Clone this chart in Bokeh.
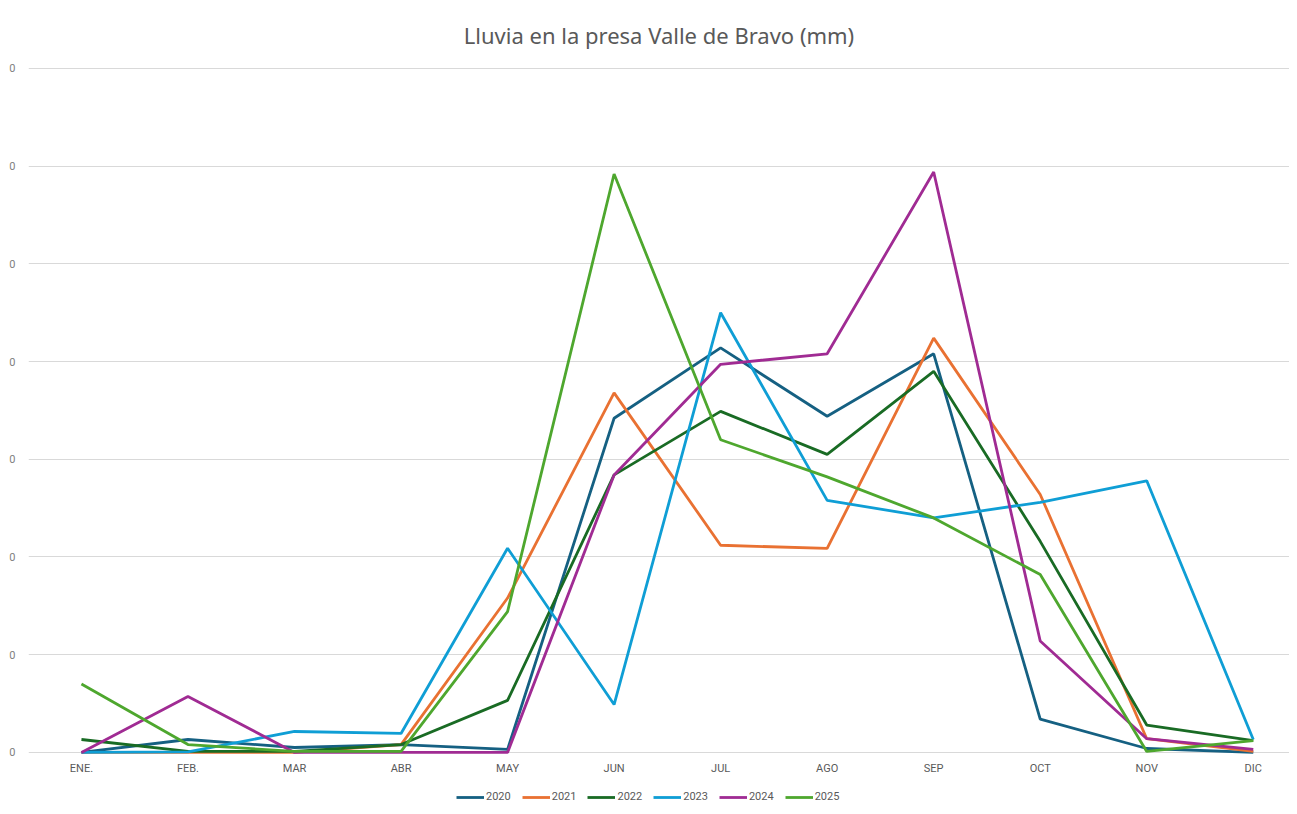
from bokeh.plotting import figure
from bokeh.models import Range1d, Legend, LegendItem, FixedTicker
from bokeh.core.properties import value
from bokeh.embed import file_html
from bokeh.resources import INLINE

months = ["ENE.", "FEB.", "MAR", "ABR", "MAY", "JUN", "JUL", "AGO", "SEP", "OCT", "NOV", "DIC"]
years = ["2020", "2021", "2022", "2023", "2024", "2025"]
y2020 = [0, 6.6, 2.5, 4, 1.5, 171, 207, 172, 204, 17, 2, 0]
y2021 = [0, 0, 0, 4, 79, 184, 106, 104.4, 212, 132, 7, 0.5]
y2022 = [6.6, 0.5, 0.5, 4, 26.6, 142, 174.5, 152.5, 195, 108, 14, 6]
y2023 = [0, 0.3, 10.7, 9.7, 104.5, 24.5, 225, 129, 120, 128, 139, 6.6]
y2024 = [0, 28.6, 0, 0, 0, 142, 198.6, 204, 297, 57, 7, 1.5]
y2025 = [35, 4, 0.5, 0.5, 72, 296, 160, 141, 120, 91, 0.5, 6]
series = [y2020, y2021, y2022, y2023, y2024, y2025]
colors = ["#156082", "#E97132", "#196B24", "#0F9ED5", "#A02B93", "#4EA72E"]
y_ticks = [0, 50, 100, 150, 200, 250, 300, 350]
y_tick_labels = ["0"] * len(y_ticks)

x = list(range(len(months)))

p = figure(frame_width=1261, frame_height=740, output_backend="svg", toolbar_location=None,
           x_range=Range1d(-0.497, 11.34), y_range=Range1d(-28.2, 350.5),
           min_border_left=28, min_border_right=0, min_border_top=66, min_border_bottom=0)

p.title.text = "Lluvia en la presa Valle de Bravo (mm)"
p.title.align = "center"
p.title.text_font = "Noto Sans"
p.title.text_font_size = "22px"
p.title.text_font_style = "normal"
p.title.text_color = "#595959"
p.title.standoff = 35

p.outline_line_color = None
p.background_fill_color = "white"
p.border_fill_color = "white"

p.xaxis.visible = False
p.xgrid.grid_line_color = None

p.yaxis.ticker = FixedTicker(ticks=y_ticks)
p.yaxis.major_label_overrides = {t: l for t, l in zip(y_ticks, y_tick_labels)}
p.yaxis.axis_line_color = None
p.yaxis.major_tick_line_color = None
p.yaxis.major_tick_out = 0
p.yaxis.major_tick_in = 0
p.yaxis.minor_tick_line_color = None
p.yaxis.major_label_text_font = "Roboto"
p.yaxis.major_label_text_font_size = "11px"
p.yaxis.major_label_text_color = "#7F7F7F"
p.yaxis.major_label_standoff = 13
p.ygrid.grid_line_color = "#D9D9D9"
p.ygrid.grid_line_width = 1

# month labels (category axis) drawn inside the frame
p.text(x=x, y=[-8.2] * len(x), text=months, text_font=value("Roboto"),
       text_font_size="11px", text_color="#595959",
       text_align="center", text_baseline="middle")

items = []
for name, vals, c in zip(years, series, colors):
    r = p.line(x, vals, line_color=c, line_width=2.8)
    items.append(LegendItem(label=name, renderers=[r]))

legend = Legend(items=items, orientation="horizontal", location=(428, 4),
                label_text_font="Roboto", label_text_font_size="11px",
                label_text_color="#595959", glyph_width=28, glyph_height=10,
                label_height=13, spacing=11, label_standoff=2, padding=2, margin=0,
                border_line_color=None, background_fill_alpha=0)
p.add_layout(legend, "center")

open("out.html", "w").write(file_html(p, INLINE))
